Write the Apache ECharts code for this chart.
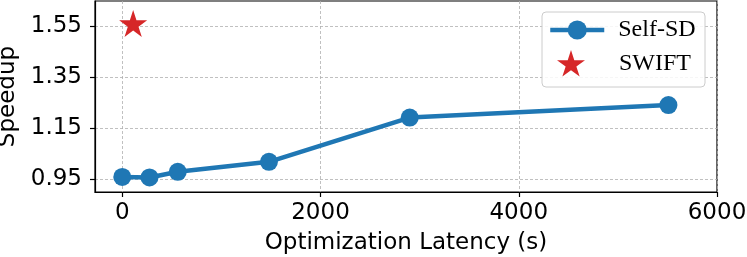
<!DOCTYPE html>
<html><head><meta charset="utf-8">
<script src="https://cdn.jsdelivr.net/npm/echarts@6/dist/echarts.min.js"></script>
<style>html,body{margin:0;padding:0;background:#fff}#c{width:747px;height:257px}</style>
</head><body><div id="c"></div>
<script>
const selfSdLatency = [0, 275, 560, 1480, 2900, 5510];
const selfSdSpeedup = [0.959, 0.957, 0.979, 1.018, 1.191, 1.240];
const swiftPoint = [[110, 1.559]];
const xTicks = [0, 2000, 4000, 6000];
const yTicks = [0.95, 1.15, 1.35, 1.55];
const STAR = 'path://M50,0 L61.2,34.5 L97.6,34.5 L68.2,55.9 L79.4,90.5 L50,69.1 L20.6,90.5 L31.8,55.9 L2.4,34.5 L38.8,34.5 Z';

const chart = echarts.init(document.getElementById('c'), null, {renderer: 'canvas'});
const tickFont = {fontFamily: 'DejaVu Sans', fontSize: 23, color: '#000'};
const splitStyle = {show: true, lineStyle: {color: '#b0b0b0', type: [3, 2], width: 0.8}};
chart.setOption({
  animation: false,
  grid: {left: 95, right: 30, top: 1, bottom: 65, show: true, borderColor: '#000', borderWidth: 1.2,
         backgroundColor: 'transparent', containLabel: false, outerBoundsMode: 'none'},
  xAxis: {
    type: 'value', min: -275, max: 6000,
    name: 'Optimization Latency (s)', nameLocation: 'middle', nameGap: 40,
    nameTextStyle: {fontFamily: 'DejaVu Sans', fontSize: 23, color: '#000'},
    axisLine: {show: true, onZero: false, lineStyle: {color: '#000', width: 1.2}},
    axisTick: {show: true, length: 5, lineStyle: {color: '#000', width: 1.2}, customValues: xTicks},
    axisLabel: Object.assign({margin: 10, customValues: xTicks, formatter: v => String(v)}, tickFont),
    splitLine: splitStyle
  },
  yAxis: {
    type: 'value', min: 0.9, max: 1.647,
    name: 'Speedup', nameLocation: 'middle', nameGap: 72, nameRotate: 90,
    nameTextStyle: {fontFamily: 'DejaVu Sans', fontSize: 23, color: '#000'},
    axisLine: {show: true, onZero: false, lineStyle: {color: '#000', width: 1.2}},
    axisTick: {show: true, length: 5, lineStyle: {color: '#000', width: 1.2}, customValues: yTicks},
    axisLabel: Object.assign({margin: 13, customValues: yTicks, formatter: v => v.toFixed(2)}, tickFont),
    splitLine: splitStyle
  },
  legend: [
    {data: ['Self-SD'], left: 548, top: 18, padding: 0, itemWidth: 54, itemHeight: 24,
     lineStyle: {width: 4.5},
     textStyle: {fontFamily: 'Liberation Serif', fontSize: 24, color: '#000', padding: [0, 0, 0, 9]}},
    {data: [{name: 'SWIFT', icon: STAR}], left: 557, top: 50, padding: 0, itemWidth: 28, itemHeight: 27,
     textStyle: {fontFamily: 'Liberation Serif', fontSize: 24, color: '#000', padding: [0, 0, 0, 29]}}
  ],
  graphic: [{type: 'rect', z: 3, shape: {x: 542, y: 12, width: 163, height: 75, r: 4},
    style: {fill: 'rgba(255,255,255,0.85)', stroke: '#cccccc', lineWidth: 1}}],
  series: [
    {name: 'Self-SD', type: 'line', data: selfSdLatency.map((x, i) => [x, selfSdSpeedup[i]]),
     symbol: 'circle', symbolSize: 18, itemStyle: {color: '#1f77b4'},
     lineStyle: {color: '#1f77b4', width: 4.5}, z: 3},
    {name: 'SWIFT', type: 'scatter', data: swiftPoint, symbol: STAR, symbolSize: [28, 27],
     itemStyle: {color: '#d62728', opacity: 1}, z: 3}
  ]
});
</script></body></html>
